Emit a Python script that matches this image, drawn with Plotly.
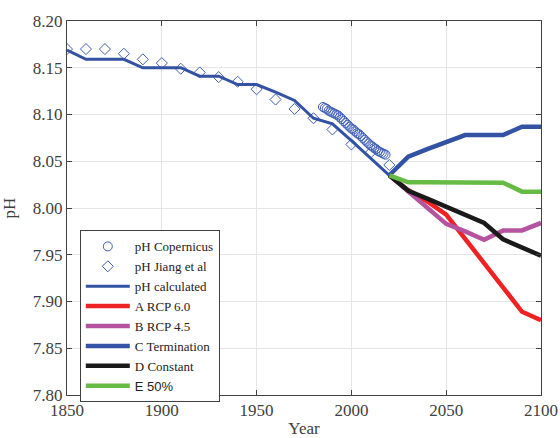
import plotly.graph_objects as go

# --- data ---
cop_years = list(range(1985, 2019))
cop_ph = [8.108, 8.107, 8.106, 8.104, 8.103, 8.102, 8.101, 8.100, 8.099, 8.097,
          8.095, 8.093, 8.091, 8.089, 8.087, 8.085, 8.084, 8.082, 8.080, 8.079,
          8.077, 8.075, 8.073, 8.071, 8.069, 8.067, 8.066, 8.064, 8.063, 8.061,
          8.060, 8.059, 8.058, 8.057]

jiang_years = [1850, 1860, 1870, 1880, 1890, 1900, 1910, 1920, 1930, 1940, 1950,
               1960, 1970, 1980, 1990, 2000, 2010, 2020]
jiang_ph = [8.170, 8.170, 8.170, 8.165, 8.159, 8.155, 8.149, 8.145, 8.140, 8.135,
            8.127, 8.116, 8.106, 8.096, 8.084, 8.068, 8.059, 8.046]

calc_years = [1850, 1860, 1870, 1880, 1890, 1900, 1910, 1920, 1930, 1940, 1950,
              1960, 1970, 1980, 1990, 2000, 2010, 2020]
calc_ph = [8.169, 8.159, 8.159, 8.159, 8.150, 8.150, 8.150, 8.141, 8.141, 8.132,
           8.132, 8.124, 8.115, 8.096, 8.090, 8.072, 8.053, 8.035]

scen_years = [2020, 2030, 2040, 2050, 2060, 2070, 2080, 2090, 2100]
a_rcp60 = [8.035, 8.019, 8.007, 7.993, 7.967, 7.941, 7.915, 7.889, 7.880]
b_rcp45 = [8.035, 8.018, 8.000, 7.983, 7.975, 7.966, 7.976, 7.976, 7.984]
c_term = [8.035, 8.055, 8.063, 8.070, 8.078, 8.078, 8.078, 8.087, 8.087]
d_const = [8.035, 8.0185, 8.010, 8.001, 7.993, 7.984, 7.9665, 7.958, 7.949]
e_50 = [8.035, 8.0275, 8.0275, 8.0275, 8.0275, 8.0275, 8.027, 8.0175, 8.0175]

x_ticks = [1850, 1900, 1950, 2000, 2050, 2100]
y_ticks = [7.80, 7.85, 7.90, 7.95, 8.00, 8.05, 8.10, 8.15, 8.20]

BLUE = "#3352a3"
MARK = "#3f5fb8"
SERIF = "Liberation Serif"
AXC = "#404040"

fig = go.Figure()
fig.add_trace(go.Scatter(x=cop_years, y=cop_ph, mode="markers", name="pH Copernicus",
                         marker=dict(symbol="circle-open", size=9, color=MARK,
                                     line=dict(width=1, color=MARK))))
fig.add_trace(go.Scatter(x=jiang_years, y=jiang_ph, mode="markers", name="pH Jiang et al",
                         marker=dict(symbol="diamond-open", size=8.5, color=MARK,
                                     line=dict(width=1, color=MARK))))
fig.add_trace(go.Scatter(x=calc_years, y=calc_ph, mode="lines", name="pH calculated",
                         line=dict(color=BLUE, width=3)))
fig.add_trace(go.Scatter(x=scen_years, y=a_rcp60, mode="lines", name="A RCP 6.0",
                         line=dict(color="#ee2222", width=4.5)))
fig.add_trace(go.Scatter(x=scen_years, y=b_rcp45, mode="lines", name="B RCP 4.5",
                         line=dict(color="#b553a0", width=4.5)))
fig.add_trace(go.Scatter(x=scen_years, y=c_term, mode="lines", name="C Termination",
                         line=dict(color=BLUE, width=4.5)))
fig.add_trace(go.Scatter(x=scen_years, y=d_const, mode="lines", name="D Constant",
                         line=dict(color="#1a1a1a", width=4.5)))
fig.add_trace(go.Scatter(x=scen_years, y=e_50, mode="lines",
                         name="<span style='font-family:Liberation Sans'>E 50%</span>",
                         line=dict(color="#66bb44", width=4.5)))

axis_common = dict(showline=True, linecolor=AXC, linewidth=1, mirror="ticks",
                   ticks="inside", ticklen=5, tickcolor=AXC, automargin=False,
                   showgrid=True, gridcolor="#e5e5e5", gridwidth=1, zeroline=False,
                   tickfont=dict(family=SERIF, size=17, color=AXC))

fig.update_layout(
    width=560, height=438,
    margin=dict(l=67, r=19, t=21, b=43),
    paper_bgcolor="white", plot_bgcolor="white",
    xaxis=dict(range=[1850, 2100], tickvals=x_ticks,
               title=dict(text="Year", font=dict(family=SERIF, size=17, color=AXC)),
               **axis_common),
    yaxis=dict(range=[7.80, 8.20], tickvals=y_ticks, tickformat=".2f",
               title=dict(text="pH", font=dict(family=SERIF, size=17, color=AXC)),
               **axis_common),
    legend=dict(x=0.027, y=0.44, xanchor="left", yanchor="top",
                bgcolor="white", bordercolor=AXC, borderwidth=1,
                font=dict(family=SERIF, size=13, color="#222222"),
                itemwidth=44, tracegroupgap=0),
    showlegend=True,
)

fig.write_html("out.html")
